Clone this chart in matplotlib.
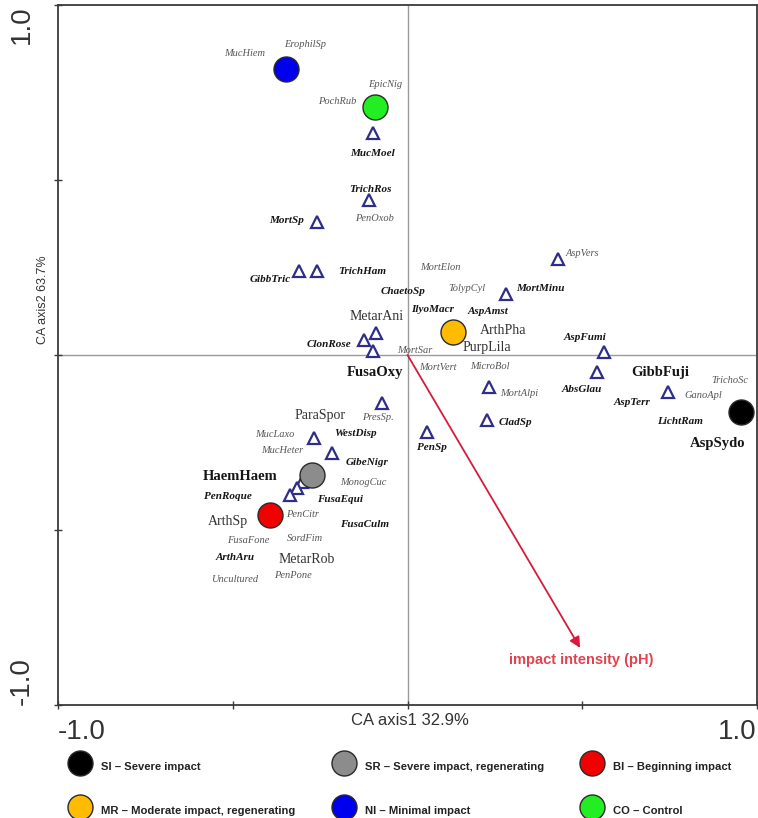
import matplotlib
matplotlib.use("Agg")
import matplotlib.pyplot as plt
from matplotlib.lines import Line2D

# --- sampling sites (CA site scores) ---
site_codes = ["SI", "SR", "BI", "MR", "NI", "CO"]
site_names = ["SI – Severe impact", "SR – Severe impact, regenerating",
              "BI – Beginning impact", "MR – Moderate impact, regenerating",
              "NI – Minimal impact", "CO – Control"]
site_x = [0.954, -0.273, -0.393, 0.130, -0.348, -0.093]
site_y = [-0.163, -0.343, -0.457, 0.066, 0.817, 0.709]
site_colors = ["#000000", "#8c8c8c", "#f00000", "#ffbb00", "#0000ee", "#22ee22"]

# --- species plotted as markers (CA species scores) ---
tri_x = [-0.099, -0.110, -0.259, -0.310, -0.259, -0.090, -0.124, -0.099,
         -0.073, -0.268, -0.216, -0.302, -0.316, -0.336, 0.056, 0.233,
         0.227, 0.282, 0.431, 0.562, 0.542, 0.745]
tri_y = [0.634, 0.443, 0.380, 0.240, 0.240, 0.063, 0.043, 0.011,
         -0.137, -0.237, -0.280, -0.363, -0.380, -0.400, -0.220, -0.091,
         -0.186, 0.174, 0.274, 0.009, -0.049, -0.106]

# --- species names ---
# bold italic
bi_names = ["MucMoel", "TrichRos", "MortSp", "GibbTric", "TrichHam", "ChaetoSp",
            "IlyoMacr", "AspAmst", "MortMinu", "ClonRose", "AspFumi", "AbsGlau",
            "AspTerr", "LichtRam", "CladSp", "PenSp", "WestDisp", "GibeNigr",
            "PenRoque", "FusaEqui", "FusaCulm", "ArthAru"]
bi_x = [-0.099, -0.107, -0.345, -0.393, -0.130, -0.013, 0.073, 0.230, 0.379,
        -0.225, 0.508, 0.499, 0.642, 0.780, 0.308, 0.070, -0.150, -0.116,
        -0.514, -0.193, -0.122, -0.494]
bi_y = [0.577, 0.474, 0.383, 0.217, 0.240, 0.180, 0.131, 0.123, 0.191,
        0.029, 0.051, -0.100, -0.137, -0.191, -0.194, -0.263, -0.223, -0.306,
        -0.403, -0.414, -0.483, -0.580]

# italic
it_names = ["MucHiem", "ErophilSp", "EpicNig", "PochRub", "PenOxob", "MortElon",
            "TolypCyl", "AspVers", "MortSar", "MortVert", "MicroBol", "MortAlpi",
            "TrichoSc", "GanoApl", "PresSp.", "MucLaxo", "MucHeter", "MonogCuc",
            "PenCitr", "FusaFone", "SordFim", "Uncultured", "PenPone"]
it_x = [-0.465, -0.293, -0.064, -0.202, -0.093, 0.093, 0.170, 0.499, 0.021,
        0.087, 0.236, 0.319, 0.923, 0.845, -0.084, -0.379, -0.359, -0.127,
        -0.299, -0.456, -0.293, -0.494, -0.328]
it_y = [0.860, 0.886, 0.774, 0.723, 0.391, 0.251, 0.191, 0.291, 0.014,
        -0.037, -0.034, -0.109, -0.074, -0.117, -0.180, -0.226, -0.274, -0.363,
        -0.457, -0.529, -0.523, -0.640, -0.629]

# regular
rg_names = ["MetarAni", "ArthPha", "PurpLila", "ParaSpor", "ArthSp", "MetarRob"]
rg_x = [-0.087, 0.273, 0.227, -0.250, -0.514, -0.288]
rg_y = [0.111, 0.069, 0.020, -0.174, -0.477, -0.583]

# bold
bd_names = ["FusaOxy", "GibbFuji", "AspSydo", "HaemHaem"]
bd_x = [-0.093, 0.722, 0.886, -0.479]
bd_y = [-0.051, -0.051, -0.254, -0.346]

# environmental vector
vec_x, vec_y = 0.494, -0.837
vec_label = "impact intensity (pH)"

serif = ["Liberation Serif", "DejaVu Serif"]
sans = ["Liberation Sans", "DejaVu Sans"]

fig = plt.figure(figsize=(7.58, 8.18), dpi=100)
ax = fig.add_axes([58 / 758, 113 / 818, 699 / 758, 700 / 818])
ax.set_xlim(-1, 1)
ax.set_ylim(-1, 1)

ax.axhline(0, color="#9a9a9a", lw=1.0, zorder=1)
ax.axvline(0, color="#9a9a9a", lw=1.0, zorder=1)

for s in ax.spines.values():
    s.set_color("#3a3a3a")
    s.set_linewidth(1.3)

# ticks
ax.set_xticks([-1, -0.5, 0, 0.5, 1])
ax.set_xticklabels(["-1.0", "", "", "", "1.0"], family=sans, fontsize=20, color="#333333")
xl = ax.get_xticklabels()
xl[0].set_ha("left")
xl[-1].set_ha("right")
ax.set_yticks([-1, -0.5, 0, 0.5, 1])
ax.set_yticklabels(["-1.0", "", "", "", "1.0"], family=sans, fontsize=20,
                   color="#333333", rotation=90)
yl = ax.get_yticklabels()
yl[0].set_va("bottom")
yl[-1].set_va("top")
ax.tick_params(axis="both", direction="inout", length=6, width=1.0, color="#3a3a3a")
ax.tick_params(axis="x", pad=7)
ax.tick_params(axis="y", pad=14)

ax.set_xlabel("CA axis1 32.9%", family=sans, fontsize=12, color="#333333")
ax.xaxis.set_label_coords(0.504, -0.011)
ax.set_ylabel("CA axis2 63.7%", family=sans, fontsize=9, color="#333333")
ax.yaxis.set_label_coords(-0.013, 0.579)

# vector
ax.annotate("", xy=(vec_x, vec_y), xytext=(0, 0),
            arrowprops=dict(arrowstyle="-|>", color="#d81b3c", lw=1.3,
                            mutation_scale=16, shrinkA=0, shrinkB=0), zorder=2)
ax.text(vec_x + 0.004, vec_y - 0.034, vec_label, family=sans, fontsize=10.5,
        fontweight="bold", color="#e2434f", ha="center", va="center")

# species markers
ax.plot(tri_x, tri_y, ls="", marker="^", ms=8, mfc="white", mec="#2e2e88",
        mew=1.6, zorder=3)

# site markers
for x, y, c in zip(site_x, site_y, site_colors):
    ax.plot([x], [y], ls="", marker="o", ms=18, mfc=c, mec="#2a2a2a", mew=1.0, zorder=4)

# species labels
for n, x, y in zip(bi_names, bi_x, bi_y):
    ax.text(x, y, n, family=serif, fontsize=8, fontstyle="italic", fontweight="bold",
            color="#151515", ha="center", va="center", zorder=5)
for n, x, y in zip(it_names, it_x, it_y):
    ax.text(x, y, n, family=serif, fontsize=7.5, fontstyle="italic",
            color="#555555", ha="center", va="center", zorder=5)
for n, x, y in zip(rg_names, rg_x, rg_y):
    ax.text(x, y, n, family=serif, fontsize=10, color="#333333",
            ha="center", va="center", zorder=5)
for n, x, y in zip(bd_names, bd_x, bd_y):
    ax.text(x, y, n, family=serif, fontsize=10.5, fontweight="bold", color="#151515",
            ha="center", va="center", zorder=5)

# legend: column-major order gives SI/MR, SR/NI, BI/CO columns
order = [0, 3, 1, 4, 2, 5]
handles = [Line2D([], [], ls="", marker="o", ms=18, mfc=site_colors[i],
                  mec="#2a2a2a", mew=1.0) for i in order]
labels = [site_names[i] for i in order]
leg = fig.legend(handles, labels, ncol=3, loc="upper left",
                 bbox_to_anchor=(67.5 / 758, 1 - 757 / 818), frameon=False,
                 borderpad=0, borderaxespad=0, handlelength=2.25, handleheight=2.1,
                 handletextpad=0.72, labelspacing=2.3, columnspacing=3.2,
                 prop=dict(family=sans, size=8.1, weight="bold"))
for t in leg.get_texts():
    t.set_color("#222222")

fig.savefig("out.png", dpi=100, facecolor="white")
